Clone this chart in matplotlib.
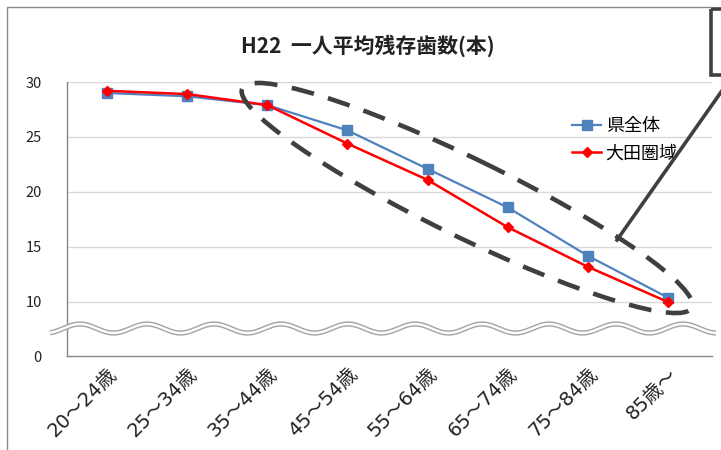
import numpy as np
import matplotlib
matplotlib.use("Agg")
import matplotlib.pyplot as plt
from matplotlib.patches import Ellipse, Rectangle
from matplotlib.transforms import ScaledTranslation

plt.rcParams['font.family'] = ['Noto Sans CJK JP', 'DejaVu Sans']

categories = ["20～24歳", "25～34歳", "35～44歳", "45～54歳", "55～64歳", "65～74歳", "75～84歳", "85歳～"]
ken_zentai = [29.0, 28.7, 27.9, 25.6, 22.1, 18.6, 14.2, 10.4]
ota_ken = [29.2, 28.9, 27.9, 24.4, 21.1, 16.8, 13.2, 10.0]
y_ticks = [5.09, 10, 15, 20, 25, 30]
y_tick_labels = ["0", "10", "15", "20", "25", "30"]
title = "H22  一人平均残存歯数(本)"

W, H = 721, 450
fig = plt.figure(figsize=(W / 100, H / 100), dpi=100)
fig.patch.set_facecolor("white")

ax = fig.add_axes([67 / W, 1 - 356 / H, (712 - 67) / W, (356 - 82) / H])
x = np.arange(len(categories))
ax.plot(x, ken_zentai, color="#4F81BD", lw=1.6, marker="s", ms=6.5, label="県全体", zorder=3)
ax.plot(x, ota_ken, color="#FF0000", lw=1.8, marker="D", ms=5.5, label="大田圏域", zorder=4)
ax.set_xlim(-0.5, len(categories) - 0.45)
ax.set_ylim(5.09, 30)
ax.set_yticks(y_ticks)
ax.set_yticklabels(y_tick_labels, fontsize=10.5, color="#222222")
for t in y_ticks[1:]:
    ax.axhline(t, color="#d9d9d9", lw=1.0, zorder=1)
ax.set_xticks(x)
ax.set_xticklabels(categories, rotation=45, ha="right", va="top",
                   rotation_mode="anchor", fontsize=14, color="#222222",
                   family=["DejaVu Sans", "Noto Sans CJK JP"])
off = ScaledTranslation(2 / 100, 0 / 100, fig.dpi_scale_trans)
for lab in ax.get_xticklabels():
    lab.set_transform(lab.get_transform() + off)
ax.tick_params(axis="both", length=0, pad=6)
ax.tick_params(axis="y", pad=18)
for s in ["top", "right"]:
    ax.spines[s].set_visible(False)
for s in ["left", "bottom"]:
    ax.spines[s].set_color("#868686")
    ax.spines[s].set_linewidth(1.0)

leg = ax.legend(loc="upper left", bbox_to_anchor=((565 - 67) / (712 - 67), 1 - (110 - 82) / 274),
                frameon=False, fontsize=13, handlelength=1.6, handletextpad=0.25,
                labelspacing=0.5, borderaxespad=0)

fig.text(368 / W, 1 - 46 / H, title, ha="center", va="center", fontsize=15,
         fontweight="bold", color="#222222")

# overlay in pixel coordinates for decorations
ov = fig.add_axes([0, 0, 1, 1], facecolor="none")
ov.set_xlim(0, W)
ov.set_ylim(H, 0)
ov.axis("off")

# figure border
ov.plot([7, 7, 710], [H + 5, 7, 7], color="#8a8a8a", lw=1.0, clip_on=False)
# top right box
ov.add_patch(Rectangle((711, 9), 30, 66, fill=False, ec="#404040", lw=2.6, clip_on=False))

# wavy break line
wx = np.linspace(50, 716, 600)
wy = 328.5 - 4.5 * np.cos(2 * np.pi * (wx - 80) / 67)
ov.plot(wx, wy, color="#a6a6a6", lw=3.8, solid_capstyle="butt", zorder=5)
ov.plot(wx, wy, color="white", lw=1.7, solid_capstyle="butt", zorder=6)

# dashed ellipse callout
ell = Ellipse((467, 198), 500, 78, angle=26, fill=False, ec="#3f3f3f", lw=3.3,
              linestyle=(0, (5.0, 3.2)), zorder=7)
ov.add_patch(ell)
ov.plot([617, 726], [240, 85], color="#3f3f3f", lw=2.6, zorder=7, clip_on=False)

fig.savefig("out.png", dpi=100, facecolor="white")
